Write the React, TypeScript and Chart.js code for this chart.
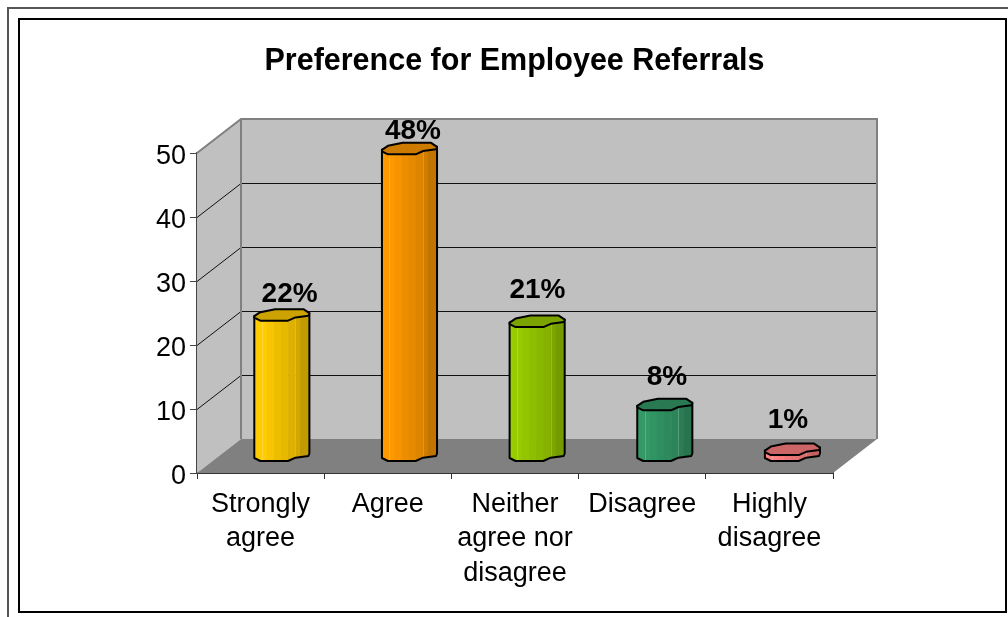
import React, { useEffect, useRef } from "react";
import { Chart, registerables } from "chart.js";

Chart.register(...registerables);

const categories: string[][] = [
  ["Strongly", "agree"],
  ["Agree"],
  ["Neither", "agree nor", "disagree"],
  ["Disagree"],
  ["Highly", "disagree"],
];
const preference: number[] = [22, 48, 21, 8, 1];
const columnColors: [number, number, number][] = [
  [255, 204, 0],
  [255, 153, 0],
  [153, 204, 0],
  [51, 153, 102],
  [255, 128, 128],
];
const yTicks: number[] = [0, 10, 20, 30, 40, 50];
const chartTitle = "Preference for Employee Referrals";

const FONT = "'Liberation Sans', Arial, sans-serif";
// Offset of the back wall from the front plane of the box.
const DEPTH_X = 44;
const DEPTH_Y = -34;
// Columns stand halfway into the box; they spread a little wider than the front ticks.
const MID_X = 21;
const MID_Y = -17;
const SPREAD = 0.45;
// Horizontal / vertical tweaks for each value label.
const labelDx = [8, 3.75, 0.6, 2.4, -4.2];
const labelDy = [-13, -10, -24, -20, -22];

// Faceted cross-section of a column, in pixels around its centre for a half width of 28.
const frontEdge: [number, number][] = [
  [-27.5, 2.5],
  [-21.5, 5.5],
  [6.5, 5.5],
  [14, 2.2],
  [27, 0.5],
  [28, -2],
];
const backEdge: [number, number][] = [
  [22, -6],
  [-6.5, -6],
  [-21.5, -3],
  [-27.5, 1],
];
// Vertical shading strips on a column: right edge as a fraction of its width, and brightness.
const bandEdges = [0.236, 0.364, 0.49, 0.62, 0.745, 0.836, 1];
const bandShades = [1, 0.97, 0.93, 0.9, 0.87, 0.82, 0.76];

const shade = (c: [number, number, number], f: number) =>
  `rgb(${Math.round(c[0] * f)},${Math.round(c[1] * f)},${Math.round(c[2] * f)})`;

const poly = (ctx: CanvasRenderingContext2D, pts: [number, number][]) => {
  ctx.beginPath();
  pts.forEach(([x, y], i) => (i ? ctx.lineTo(x, y) : ctx.moveTo(x, y)));
  ctx.closePath();
};

const framePlugin = {
  id: "frame",
  beforeDraw(chart: any) {
    const { ctx, width, height } = chart;
    ctx.save();
    ctx.strokeStyle = "#555";
    ctx.lineWidth = 2;
    ctx.beginPath();
    ctx.moveTo(8, height);
    ctx.lineTo(8, 8);
    ctx.lineTo(width, 8);
    ctx.stroke();
    ctx.strokeStyle = "#000";
    ctx.strokeRect(19, 19, 987, 593);
    ctx.restore();
  },
};

const boxPlugin = {
  id: "box3d",
  beforeDatasetsDraw(chart: any) {
    const { ctx, chartArea: a, scales } = chart;
    const y = scales.y;
    const top = a.top;
    const bottom = a.bottom;
    ctx.save();
    ctx.lineWidth = 1;
    // Side wall
    ctx.fillStyle = "#C0C0C0";
    poly(ctx, [
      [a.left, bottom],
      [a.left, top],
      [a.left + DEPTH_X, top + DEPTH_Y],
      [a.left + DEPTH_X, bottom + DEPTH_Y],
    ]);
    ctx.fill();
    // Back wall
    poly(ctx, [
      [a.left + DEPTH_X, top + DEPTH_Y],
      [a.right + DEPTH_X, top + DEPTH_Y],
      [a.right + DEPTH_X, bottom + DEPTH_Y],
      [a.left + DEPTH_X, bottom + DEPTH_Y],
    ]);
    ctx.fill();
    // Floor
    ctx.fillStyle = "#808080";
    poly(ctx, [
      [a.left, bottom],
      [a.right, bottom],
      [a.right + DEPTH_X, bottom + DEPTH_Y],
      [a.left + DEPTH_X, bottom + DEPTH_Y],
    ]);
    ctx.fill();
    // Gridlines run along the side wall, then across the back wall.
    yTicks.slice(1, -1).forEach((t) => {
      const py = Math.round(y.getPixelForValue(t)) + 0.5;
      ctx.strokeStyle = "#111";
      ctx.beginPath();
      ctx.moveTo(a.left, py);
      ctx.lineTo(a.left + DEPTH_X, py + DEPTH_Y);
      ctx.lineTo(a.right + DEPTH_X, py + DEPTH_Y);
      ctx.stroke();
    });
    // Wall outline
    ctx.strokeStyle = "#808080";
    ctx.lineWidth = 2;
    ctx.beginPath();
    ctx.moveTo(a.left, top);
    ctx.lineTo(a.left + DEPTH_X, top + DEPTH_Y);
    ctx.lineTo(a.right + DEPTH_X, top + DEPTH_Y);
    ctx.lineTo(a.right + DEPTH_X, bottom + DEPTH_Y);
    ctx.moveTo(a.left + DEPTH_X, top + DEPTH_Y);
    ctx.lineTo(a.left + DEPTH_X, bottom + DEPTH_Y);
    ctx.stroke();
    ctx.restore();
  },
  afterDatasetsDraw(chart: any) {
    const { ctx } = chart;
    const bars = chart.getDatasetMeta(0).data;
    bars.forEach((bar: any, i: number) => {
      const cx = bar.x + MID_X + i * SPREAD;
      const topY = bar.y + MID_Y;
      const baseY = bar.base + MID_Y;
      const k = bar.width / 2 / 28;
      const color = columnColors[i];
      const at = (p: [number, number], cy: number): [number, number] => [cx + p[0] * k, cy + p[1]];
      const outline: [number, number][] = [
        at(frontEdge[0], baseY),
        ...frontEdge.slice(1).map((p) => at(p, baseY)),
        at(frontEdge[frontEdge.length - 1], topY),
        at(backEdge[3], topY),
      ];
      ctx.save();
      // Body, shaded in vertical strips
      poly(ctx, outline);
      ctx.save();
      ctx.clip();
      const left = cx - bar.width / 2;
      let from = 0;
      bandShades.forEach((f, b) => {
        ctx.fillStyle = shade(color, f);
        ctx.fillRect(left + from * bar.width, topY - 10, (bandEdges[b] - from) * bar.width + 0.5, baseY - topY + 20);
        from = bandEdges[b];
      });
      ctx.strokeStyle = "rgba(255,255,255,0.2)";
      ctx.lineWidth = 1;
      [0.14, 0.745].forEach((f) => {
        ctx.beginPath();
        ctx.moveTo(Math.round(left + f * bar.width) + 0.5, topY);
        ctx.lineTo(Math.round(left + f * bar.width) + 0.5, baseY + 6);
        ctx.stroke();
      });
      ctx.restore();
      ctx.strokeStyle = "#000";
      ctx.lineWidth = 2;
      ctx.lineJoin = "round";
      poly(ctx, outline);
      ctx.stroke();
      // Top cap
      poly(ctx, [...frontEdge.map((p) => at(p, topY)), ...backEdge.map((p) => at(p, topY))]);
      ctx.fillStyle = shade(color, 0.8);
      ctx.fill();
      ctx.stroke();
      ctx.restore();
    });
    // Value labels
    ctx.save();
    ctx.font = `bold 28px ${FONT}`;
    ctx.fillStyle = "#000";
    ctx.textAlign = "center";
    ctx.textBaseline = "alphabetic";
    bars.forEach((bar: any, i: number) => {
      ctx.fillText(`${preference[i]}%`, bar.x + MID_X + i * SPREAD + labelDx[i], bar.y + MID_Y + labelDy[i]);
    });
    ctx.restore();
  },
};

export default function App() {
  const ref = useRef<HTMLCanvasElement>(null);
  useEffect(() => {
    const chart = new Chart(ref.current as HTMLCanvasElement, {
      type: "bar",
      data: {
        labels: categories,
        datasets: [
          {
            data: preference,
            backgroundColor: "rgba(0,0,0,0)",
            borderWidth: 0,
            categoryPercentage: 0.437,
            barPercentage: 1,
          },
        ],
      },
      options: {
        responsive: false,
        animation: false,
        layout: { padding: { left: 21, right: 0, top: 0, bottom: 0 } },
        plugins: {
          legend: { display: false },
          tooltip: { enabled: false },
          title: {
            display: true,
            text: chartTitle,
            color: "#000",
            font: { family: FONT, size: 30.5, weight: "bold", lineHeight: 1.2 },
            padding: { top: 43, bottom: 73.4 },
          },
        },
        scales: {
          x: {
            offset: true,
            grid: { offset: true, drawOnChartArea: false, color: "#333", tickLength: 6, tickColor: "#333" },
            border: { display: true, color: "#333", width: 2 },
            ticks: {
              color: "#000",
              font: { family: FONT, size: 27, lineHeight: 1.26 },
              maxRotation: 0,
              minRotation: 0,
              autoSkip: false,
              padding: 9,
            },
            afterFit(scale: any) {
              scale.height = 144;
            },
          },
          y: {
            min: 0,
            max: 50,
            grid: { drawOnChartArea: false, color: "#444", tickLength: 7, tickColor: "#444" },
            border: { display: true, color: "#444", width: 2 },
            ticks: {
              color: "#000",
              stepSize: 10,
              font: { family: FONT, size: 27 },
              padding: 4,
            },
            afterFit(scale: any) {
              scale.width = 176;
            },
            afterUpdate(scale: any) {
              // Numerals sit slightly below their tick marks.
              const drawLabels = scale.drawLabels;
              scale.drawLabels = function (area: any) {
                const ctx = scale.ctx;
                ctx.save();
                ctx.translate(0, 2);
                drawLabels.call(scale, area);
                ctx.restore();
              };
            },
          },
          spacer: {
            position: "right",
            display: true,
            grid: { display: false },
            border: { display: false },
            ticks: { display: false },
            afterFit(scale: any) {
              scale.width = 175;
            },
          },
        },
      },
      plugins: [framePlugin, boxPlugin],
    } as any);
    return () => chart.destroy();
  }, []);
  return (
    <canvas
      ref={ref}
      width={1008}
      height={617}
      style={{ position: "fixed", left: 0, top: 0, display: "block", background: "#fff" }}
    />
  );
}
